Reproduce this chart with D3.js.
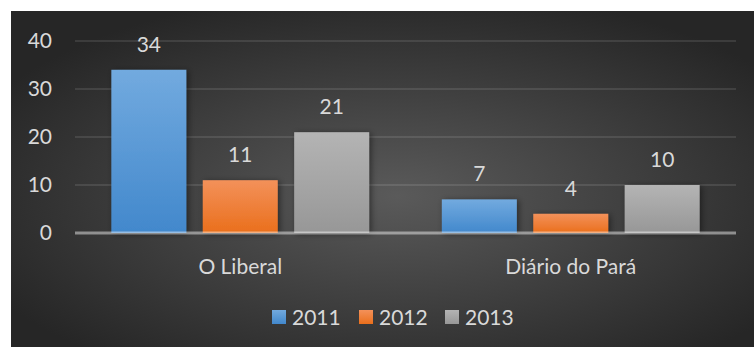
<!DOCTYPE html>
<html><head><meta charset="utf-8">
<script src="https://cdn.jsdelivr.net/npm/d3@7/dist/d3.min.js"></script>
<style>html,body{margin:0;padding:0;background:#fff;}svg{display:block;}</style>
</head><body>
<svg id="c" width="754" height="347"></svg>
<script>
const categories = ["O Liberal", "Diário do Pará"];
const seriesNames = ["2011", "2012", "2013"];
const values2011 = [34, 7];
const values2012 = [11, 4];
const values2013 = [21, 10];
const yTicks = [0, 10, 20, 30, 40];

const seriesValues = [values2011, values2012, values2013];
const colorsTop = ["#72aadf", "#f3915a", "#b4b4b4"];
const colorsBot = ["#4288cc", "#ea6f1c", "#979797"];
const font = "Lato, 'Open Sans', sans-serif";
const textColor = "#d9d9d9";

const svg = d3.select("#c");
const defs = svg.append("defs");
const bg = defs.append("radialGradient").attr("id","bg")
  .attr("cx","52%").attr("cy","55%").attr("r","62%");
bg.append("stop").attr("offset","0%").attr("stop-color","#5a5a5a");
bg.append("stop").attr("offset","100%").attr("stop-color","#262626");
seriesNames.forEach((s,i)=>{
  const g = defs.append("linearGradient").attr("id","g"+i).attr("x1",0).attr("y1",0).attr("x2",0).attr("y2",1);
  g.append("stop").attr("offset","0%").attr("stop-color",colorsTop[i]);
  g.append("stop").attr("offset","100%").attr("stop-color",colorsBot[i]);
});
const f = defs.append("filter").attr("id","sh").attr("x","-20%").attr("y","-20%").attr("width","150%").attr("height","140%");
f.append("feDropShadow").attr("dx",2).attr("dy",1).attr("stdDeviation",3).attr("flood-color","#000").attr("flood-opacity",0.45);

svg.append("rect").attr("x",11).attr("y",11).attr("width",743).attr("height",336).attr("fill","url(#bg)");

const x0 = d3.scaleBand().domain(categories).range([75,736]).paddingInner(0.22).paddingOuter(0.11);
const x1 = d3.scaleBand().domain(seriesNames).range([0,x0.bandwidth()]).paddingInner(0.18).paddingOuter(0);
const y = d3.scaleLinear().domain([0,40]).range([233,41]);

// gridlines
svg.append("g").selectAll("line").data(yTicks.filter(t=>t>0)).join("line")
  .attr("x1",75).attr("x2",736).attr("y1",d=>y(d)).attr("y2",d=>y(d))
  .attr("stroke","#ffffff").attr("stroke-opacity",0.1).attr("stroke-width",2);

// y axis labels
const yAxis = d3.axisLeft(y).tickValues(yTicks).tickSize(0).tickPadding(0);
const ya = svg.append("g").attr("transform","translate(52,0)").call(yAxis);
ya.select(".domain").remove();
ya.selectAll("text").attr("fill",textColor).style("font-family",font).style("font-size","21px");

// bars
const groups = svg.append("g").selectAll("g").data(categories).join("g")
  .attr("transform",c=>`translate(${x0(c)},0)`);
groups.each(function(c,ci){
  const g = d3.select(this);
  seriesNames.forEach((s,si)=>{
    const v = seriesValues[si][ci];
    g.append("rect").attr("x",x1(s)).attr("y",y(v)).attr("width",x1.bandwidth()).attr("height",y(0)-y(v))
      .attr("fill",`url(#g${si})`).attr("filter","url(#sh)");
    g.append("text").attr("x",x1(s)+x1.bandwidth()/2).attr("y",y(v)-18)
      .attr("text-anchor","middle").attr("fill",textColor)
      .style("font-family",font).style("font-size","21px").text(v);
  });
});

// zero axis line
svg.append("line").attr("x1",75).attr("x2",736).attr("y1",y(0)).attr("y2",y(0))
  .attr("stroke","#ffffff").attr("stroke-opacity",0.45).attr("stroke-width",3);

// category labels
const xAxis = d3.axisBottom(x0).tickSize(0).tickPadding(0);
const xa = svg.append("g").attr("transform","translate(0,274)").call(xAxis);
xa.select(".domain").remove();
xa.selectAll("text").attr("fill",textColor).attr("dy",0).style("font-family",font).style("font-size","21px");

// legend
const legendX = [272, 359, 445];
const lg = svg.append("g").selectAll("g").data(seriesNames).join("g")
  .attr("transform",(d,i)=>`translate(${legendX[i]},310)`);
lg.append("rect").attr("width",14).attr("height",14).attr("fill",(d,i)=>`url(#g${i})`);
lg.append("text").attr("x",20).attr("y",15).attr("fill",textColor)
  .style("font-family",font).style("font-size","21px").text(d=>d);
</script>
</body></html>
